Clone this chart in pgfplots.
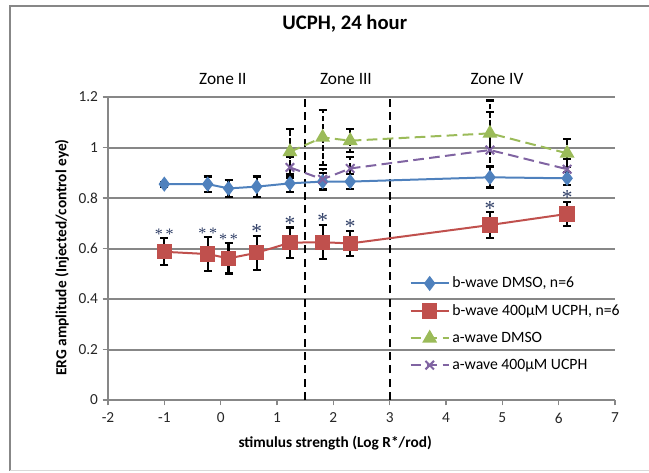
\documentclass[border=0pt]{standalone}
\usepackage{fontspec}
\setmainfont{Carlito}
\newfontfamily\starfont{Liberation Serif}
\usepackage{pgfplots}
\usepackage{pgfplotstable}
\pgfplotsset{compat=1.18}
\definecolor{cblue}{HTML}{4F81BD}
\definecolor{cred}{HTML}{C0504D}
\definecolor{cgreen}{HTML}{9BBB59}
\definecolor{cpurple}{HTML}{8064A2}
\definecolor{gridgray}{HTML}{878787}
\definecolor{starc}{HTML}{2F3E66}

\pgfplotstableread{
x y e
-1.00 0.855 0.01
-0.23 0.855 0.03
0.14 0.838 0.035
0.64 0.845 0.04
1.23 0.858 0.035
1.81 0.865 0.035
2.30 0.865 0.03
4.78 0.882 0.04
6.15 0.878 0.025
}\bdmso
\pgfplotstableread{
x y e
-1.00 0.587 0.053
-0.23 0.578 0.066
0.14 0.561 0.06
0.64 0.583 0.068
1.23 0.623 0.06
1.81 0.625 0.068
2.30 0.620 0.05
4.78 0.693 0.05
6.15 0.737 0.048
}\bucph
\pgfplotstableread{
x y e
1.23 0.983 0.09
1.81 1.040 0.11
2.30 1.027 0.045
4.78 1.056 0.13
6.15 0.977 0.055
}\admso
\pgfplotstableread{
x y e
1.23 0.921 0.04
1.81 0.874 0.04
2.30 0.917 0.045
4.78 0.990 0.15
6.15 0.914 0.04
}\aucph
\pgfplotstableread{
x y s
-1.00 0.640 *\kern2pt*
-0.23 0.644 *\kern2pt*
0.14 0.621 *\kern2pt*
}\starsb
\pgfplotstableread{
x y s
0.64 0.651 *
1.23 0.683 *
1.81 0.693 *
2.30 0.670 *
4.78 0.743 *
6.15 0.785 *
}\starsa

\begin{document}
\begin{tikzpicture}
\begin{axis}[
  at={(0,0)}, anchor=south west,
  scale only axis, width=380.25pt, height=227.25pt,
  xmin=-2, xmax=7, ymin=0, ymax=1.2,
  xtick={-2,-1,0,1,2,3,4,5,6,7},
  ytick={0,0.2,0.4,0.6,0.8,1,1.2},
  axis x line*=bottom, axis y line*=left,
  axis line style={gridgray, line width=1.3pt},
  tick style={gridgray, line width=1pt},
  tick align=outside, major tick length=4pt,
  ymajorgrids, grid style={gridgray, line width=1.5pt},
  clip=false,
  /pgf/number format/assume math mode=true,
  tick label style={font=\fontsize{11.5}{13}\selectfont, text=black!85},
  xticklabel style={yshift=-2pt},
  title={\bfseries UCPH, 24 hour},
  title style={at={(axis description cs:0.467,1.215)}, anchor=center, font=\fontsize{15.5}{18}\selectfont},
  xlabel={\bfseries stimulus strength (Log R*/rod)},
  xlabel style={at={(axis description cs:0.448,-0.142)}, anchor=center, font=\fontsize{11.5}{13}\selectfont},
  ylabel={\bfseries ERG amplitude (Injected/control eye)},
  ylabel style={at={(axis description cs:-0.091,0.47)}, anchor=center, font=\fontsize{11.5}{13}\selectfont},
  legend style={at={(axis description cs:0.592,0.42)}, anchor=north west, draw=none, fill=none,
    font=\fontsize{11.8}{13}\selectfont, row sep=7pt, inner sep=1pt},
  legend cell align=left,
  legend image code/.code={\draw[mark repeat=2,mark phase=2,#1] plot coordinates {(0cm,0cm) (0.5cm,0cm) (1cm,0cm)};},
  error bars/error bar style={black, line width=1.6pt},
  error bars/error mark options={black, rotate=90, mark size=3pt, line width=1.6pt, solid},
]
\addplot[black, line width=1.5pt, dash pattern=on 6pt off 4pt, forget plot] coordinates {(1.5,0) (1.5,1.2)};
\addplot[black, line width=1.5pt, dash pattern=on 6pt off 4pt, forget plot] coordinates {(3,0) (3,1.2)};

\addplot[cblue, line width=1.5pt, mark=diamond*, mark size=4.5pt, mark options={solid, fill=cblue, draw=cblue},
  error bars/.cd, y dir=both, y explicit]
  table[x=x, y=y, y error=e] {\bdmso};
\addlegendentry{b-wave DMSO, n=6}

\addplot[cred, line width=1.5pt, mark=square*, mark size=5pt, mark options={solid, fill=cred, draw=cred},
  error bars/.cd, y dir=both, y explicit]
  table[x=x, y=y, y error=e] {\bucph};
\addlegendentry{b-wave 400μM UCPH, n=6}

\addplot[cgreen, line width=1.5pt, dash pattern=on 8pt off 4pt, mark=triangle*, mark size=5pt, mark options={solid, fill=cgreen, draw=cgreen},
  error bars/.cd, y dir=both, y explicit, error bar style={dash pattern=on 4pt off 2pt}]
  table[x=x, y=y, y error=e] {\admso};
\addlegendentry{a-wave DMSO}

\addplot[cpurple, line width=1.5pt, dash pattern=on 8pt off 4pt, mark=x, mark size=4.5pt, mark options={solid, draw=cpurple, line width=1.5pt},
  error bars/.cd, y dir=both, y explicit, error bar style={dash pattern=on 4pt off 2pt}]
  table[x=x, y=y, y error=e] {\aucph};
\addlegendentry{a-wave 400μM UCPH}

\addplot[draw=none, mark=none, forget plot, nodes near coords, point meta=explicit symbolic,
  nodes near coords style={anchor=base, text=starc, inner sep=0pt, yshift=-1pt, font=\starfont\fontsize{12}{14}\selectfont}]
  table[x=x, y=y, meta=s] {\starsb};
\addplot[draw=none, mark=none, forget plot, nodes near coords, point meta=explicit symbolic,
  nodes near coords style={anchor=base, text=starc, inner sep=0pt, yshift=-2pt, font=\starfont\fontsize{16}{18}\selectfont}]
  table[x=x, y=y, meta=s] {\starsa};

\node[font=\fontsize{13}{15}\selectfont] at (axis cs:0.04,1.271) {Zone II};
\node[font=\fontsize{13}{15}\selectfont] at (axis cs:2.225,1.271) {Zone III};
\node[font=\fontsize{13}{15}\selectfont] at (axis cs:4.905,1.271) {Zone IV};
\end{axis}
\draw[gridgray, line width=1.5pt] (405.75pt,295.5pt) -- (-73.5pt,295.5pt) -- (-73.5pt,-53pt);
\draw[black!15, line width=1pt] (-73.5pt,-53pt) -- (405.75pt,-53pt);
\pgfresetboundingbox
\path[use as bounding box] (-81pt,-54pt) rectangle (405.75pt,300pt);
\end{tikzpicture}
\end{document}
